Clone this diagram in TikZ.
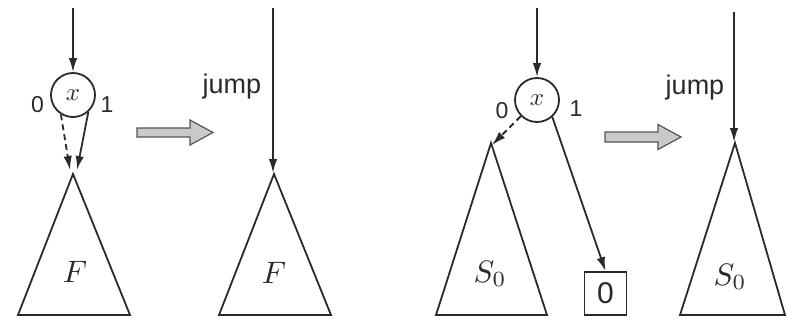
\documentclass[tikz,border=0pt]{standalone}
\usepackage{graphicx}
\usepackage{fontspec}
\setmainfont{Liberation Sans}
\usetikzlibrary{arrows.meta}
\definecolor{ink}{HTML}{2A2A2A}
\definecolor{arrowfill}{HTML}{C9C9C9}
\definecolor{arrowline}{HTML}{555555}
\newcommand{\bigmath}[2]{\scalebox{#1}{$#2$}}
\begin{document}
\begin{tikzpicture}[x=1pt,y=-1pt,
  line width=1.8pt, ink,
  edge/.style={draw=ink, line width=1.8pt, -{Latex[length=14pt,width=8.5pt]}},
  dashedge/.style={edge, dash pattern=on 6pt off 4pt},
  varnode/.style={circle, draw=ink, line width=1.8pt, minimum size=44pt, inner sep=0pt},
  lbl/.style={font=\fontsize{23}{25}\selectfont, text=ink, inner sep=0pt},
  jumplbl/.style={font=\fontsize{27}{29}\selectfont, text=ink, inner sep=0pt, anchor=base},
  treelbl/.style={text=ink, inner sep=0pt},
  tri/.style={draw=ink, line width=1.8pt, line join=miter},
  leafbox/.style={rectangle, draw=ink, line width=1.8pt, minimum width=42pt, minimum height=43pt, inner sep=0pt, font=\fontsize{30}{32}\selectfont},
  bigarrow/.style={draw=arrowline, line width=1.2pt, fill=arrowfill, line join=miter}
]
\useasboundingbox (0,0) rectangle (787,321);

% ---------- panel 1 ----------
\coordinate (s1) at (73,8);
\node[varnode] (x1) at (73,95) {\bigmath{2.5}{x}};
\node[lbl] (z1) at (37.5,105) {0};
\node[lbl] (o1) at (107,105) {1};
\coordinate (a1) at (73,174);
\coordinate (a1l) at (70,170);
\coordinate (a1r) at (77,170);
\draw[tri] (a1) -- (18,315) -- (130,315) -- cycle;
\node[treelbl] (f1) at (75,272) {\bigmath{3.1}{F}};
\draw[edge] (s1) -- (x1.north);
\draw[dashedge] (x1.-122) -- (a1l);
\draw[edge] (x1.-48) -- (a1r);

% ---------- arrow 1 ----------
\draw[bigarrow] (137,128) -- (190,128) -- (190,120) -- (213,132.5) -- (190,145) -- (190,137) -- (137,137) -- cycle;

% ---------- panel 2 ----------
\coordinate (s2) at (273,8);
\coordinate (a2) at (274,174);
\draw[tri] (a2) -- (219,315) -- (331,315) -- cycle;
\node[treelbl] (f2) at (274,273) {\bigmath{3.1}{F}};
\draw[edge] (s2) -- (273,173);
\node[jumplbl] (j2) at (232,93) {jump};

% ---------- panel 3 ----------
\coordinate (s3) at (537,8);
\node[varnode] (x3) at (537,100) {\bigmath{2.5}{x}};
\node[lbl] (z3) at (502,111) {0};
\node[lbl] (o3) at (576,109) {1};
\coordinate (a3) at (491,143);
\draw[tri] (a3) -- (436,315) -- (547,315) -- cycle;
\node[treelbl] (s0a) at (490,274) {\bigmath{3.1}{S_0}};
\node[leafbox] (leaf) at (605.5,293.5) {0};
\draw[edge] (s3) -- (x3.north);
\draw[dashedge] (x3.-135) -- ([xshift=1pt,yshift=-2pt]a3);
\draw[edge] (x3.-48) -- (leaf.north);

% ---------- arrow 2 ----------
\draw[bigarrow] (605,132) -- (658,132) -- (658,124.5) -- (681,137) -- (658,149.5) -- (658,142) -- (605,142) -- cycle;

% ---------- panel 4 ----------
\coordinate (s4) at (734,12);
\coordinate (a4) at (735,143);
\draw[tri] (a4) -- (680,315) -- (785,315) -- cycle;
\node[treelbl] (s0b) at (730,277) {\bigmath{3.1}{S_0}};
\draw[edge] (s4) -- (734,142);
\node[jumplbl] (j4) at (695,95) {jump};
\end{tikzpicture}
\end{document}
